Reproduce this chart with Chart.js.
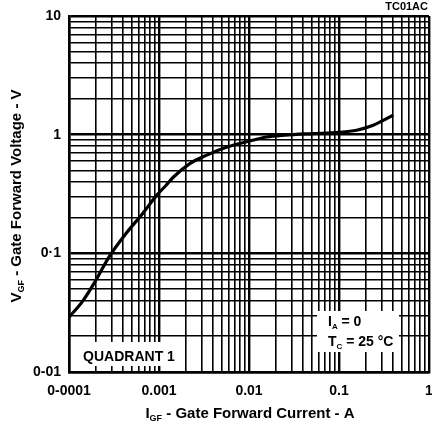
<!DOCTYPE html>
<html>
<head>
<meta charset="utf-8">
<script src="https://cdn.jsdelivr.net/npm/chart.js@4"></script>
<style>
  html, body { margin: 0; padding: 0; background: #fff; }
  #wrap { width: 432px; height: 427px; }
</style>
</head>
<body>
<div id="wrap"><canvas id="chart" width="432" height="427"></canvas></div>
<script>
// gate forward current (A) and gate forward voltage (V)
const currentA = [0.0001, 0.00014, 0.00019, 0.00028, 0.00043, 0.00066, 0.00093, 0.0012, 0.00145, 0.0022, 0.0034, 0.0056, 0.0094, 0.0157, 0.025, 0.05, 0.1, 0.157, 0.24, 0.4];
const voltageV = [0.029, 0.039, 0.056, 0.094, 0.147, 0.217, 0.305, 0.375, 0.44, 0.57, 0.672, 0.782, 0.871, 0.955, 0.99, 1.02, 1.045, 1.09, 1.2, 1.46];

// grid lines (1..9 per decade) and labelled decades
const xDecades = [0.0001, 0.001, 0.01, 0.1, 1];
const yDecades = [0.01, 0.1, 1, 10];
const xTickLabels = ['0-0001', '0.001', '0.01', '0.1', '1'];
const yTickLabels = ['0-01', '0·1', '1', '10'];

function gridValues(decades) {
  const vals = [];
  for (let i = 0; i < decades.length - 1; i++) {
    for (let m = 1; m <= 9; m++) vals.push(+(decades[i] * m).toPrecision(3));
  }
  vals.push(decades[decades.length - 1]);
  return vals;
}
function labelFor(v, decades, labels) {
  const i = decades.findIndex(d => Math.abs(d - v) / d < 1e-6);
  return i >= 0 ? labels[i] : '';
}
function isDecade(v, decades) {
  return decades.some(d => Math.abs(d - v) / d < 1e-6);
}

const FONT = '"Liberation Sans", Arial, Helvetica, sans-serif';

// text with a subscript part, centred around x
function drawSubText(ctx, parts, x, y, size) {
  const font = p => 'bold ' + (p[1] ? Math.round(size * 0.6) : size) + 'px ' + FONT;
  let total = 0;
  parts.forEach(p => { ctx.font = font(p); total += ctx.measureText(p[0]).width; });
  let cx = x - total / 2;
  parts.forEach(p => {
    ctx.font = font(p);
    ctx.fillText(p[0], cx, p[1] ? y + size * 0.3 : y);
    cx += ctx.measureText(p[0]).width;
  });
}

const extras = {
  id: 'extras',
  afterDraw(chart) {
    const ctx = chart.ctx;
    ctx.save();
    ctx.fillStyle = '#000';
    ctx.textBaseline = 'middle';

    // figure code
    ctx.font = 'bold 11px ' + FONT;
    ctx.textAlign = 'right';
    ctx.fillText('TC01AC', 428, 7);
    ctx.textAlign = 'left';

    // axis titles
    drawSubText(ctx, [['I', false], ['GF', true], [' - Gate Forward Current - A', false]], 250, 414, 15);
    ctx.save();
    ctx.translate(17, 196);
    ctx.rotate(-Math.PI / 2);
    drawSubText(ctx, [['V', false], ['GF', true], [' - Gate Forward Voltage - V', false]], 0, 0, 15);
    ctx.restore();

    // QUADRANT 1 box
    ctx.fillStyle = '#fff';
    ctx.fillRect(71, 342, 111, 24);
    ctx.fillStyle = '#000';
    ctx.font = 'bold 14px ' + FONT;
    ctx.textAlign = 'center';
    ctx.fillText('QUADRANT 1', 129, 357);

    // conditions box
    ctx.fillStyle = '#fff';
    ctx.fillRect(317, 311, 82, 41);
    ctx.fillStyle = '#000';
    ctx.textAlign = 'left';
    const sub = (main, s, rest, x0, y0) => {
      ctx.font = 'bold 14px ' + FONT;
      ctx.fillText(main, x0, y0);
      x0 += ctx.measureText(main).width;
      ctx.font = 'bold 8px ' + FONT;
      ctx.fillText(s, x0, y0 + 5);
      x0 += ctx.measureText(s).width;
      ctx.font = 'bold 14px ' + FONT;
      ctx.fillText(rest, x0, y0);
    };
    sub('I', 'A', ' = 0', 328, 322);
    sub('T', 'C', ' = 25 °C', 328, 342);
    ctx.restore();
  }
};

new Chart(document.getElementById('chart'), {
  type: 'line',
  data: {
    datasets: [{
      data: currentA.map((x, i) => ({ x: x, y: voltageV[i] })),
      borderColor: '#000',
      borderWidth: 3.2,
      pointRadius: 0,
      cubicInterpolationMode: 'monotone',
      fill: false
    }]
  },
  options: {
    responsive: false,
    animation: false,
    layout: { padding: { left: 19, top: 16, right: 3, bottom: 0 } },
    plugins: { legend: { display: false }, tooltip: { enabled: false } },
    scales: {
      x: {
        type: 'logarithmic',
        min: 0.0001,
        max: 1,
        afterBuildTicks: s => { s.ticks = gridValues(xDecades).map(v => ({ value: v })); },
        afterFit: s => { s.height = 55; s.paddingLeft = 0; s.paddingRight = 0; },
        grid: {
          color: '#000',
          drawTicks: false,
          lineWidth: c => isDecade(c.tick.value, xDecades) ? 2.4 : 1.6
        },
        border: { display: true, color: '#000', width: 2.5 },
        ticks: {
          autoSkip: false,
          maxRotation: 0,
          padding: 11,
          color: '#000',
          font: { family: FONT, size: 14, weight: 'bold' },
          callback: v => labelFor(v, xDecades, xTickLabels)
        }
      },
      y: {
        type: 'logarithmic',
        min: 0.01,
        max: 10,
        afterBuildTicks: s => { s.ticks = gridValues(yDecades).map(v => ({ value: v })); },
        afterFit: s => { s.width = 50; s.paddingTop = 0; s.paddingBottom = 0; },
        grid: {
          color: '#000',
          drawTicks: false,
          lineWidth: c => isDecade(c.tick.value, yDecades) ? 2.4 : 1.6
        },
        border: { display: true, color: '#000', width: 2.5 },
        ticks: {
          autoSkip: false,
          padding: 8,
          color: '#000',
          font: { family: FONT, size: 14, weight: 'bold' },
          callback: v => labelFor(v, yDecades, yTickLabels)
        }
      }
    }
  },
  plugins: [extras]
});
</script>
</body>
</html>
